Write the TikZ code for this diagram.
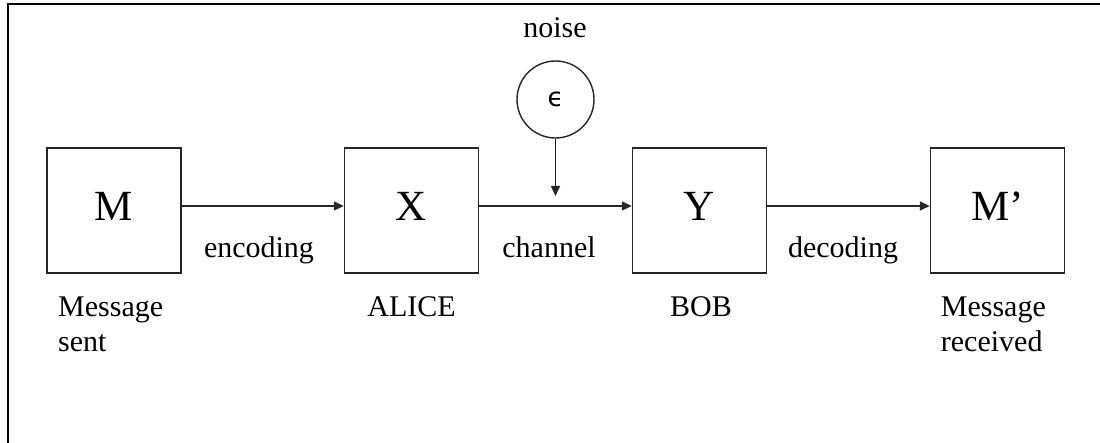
\documentclass[tikz,border=0pt]{standalone}
\usepackage{fontspec}
\setmainfont{Liberation Serif}
\newfontfamily\epsfont{DejaVu Sans}
\usetikzlibrary{arrows.meta}
\begin{document}
\begin{tikzpicture}[x=1pt,y=-1pt,
  blk/.style={draw=black!85,line width=1.4pt,minimum width=134pt,minimum height=125pt,inner sep=0pt,
    font=\fontsize{43}{50}\selectfont,text height=21pt,text depth=0pt},
  lbl/.style={inner sep=0pt,font=\fontsize{30}{35}\selectfont},
  arr/.style={draw=black!85,line width=1.4pt,-{Triangle[length=10pt,width=9pt]}}]
\useasboundingbox (0,0) rectangle (1100,443);
\draw[line width=1.8pt] (8,443) -- (8,4) -- (1100,4);
\node[blk] (m)  at (114,210.5) {M};
\node[blk] (x)  at (411.5,210.5) {X};
\node[blk] (y)  at (699.5,210.5) {Y};
\node[blk] (mp) at (997.5,210.5) {M’};
\node[circle,draw=black!85,line width=1.4pt,minimum size=77pt,inner sep=0pt,
  font=\epsfont\fontsize{26}{30}\selectfont] (eps) at (555.5,99.5) {ϵ};
\coordinate (nz) at (555.5,196);
\draw[arr] ([yshift=4.5pt]m.east) -- ([yshift=4.5pt]x.west);
\draw[arr] ([yshift=4.5pt]x.east) -- ([yshift=4.5pt]y.west);
\draw[arr] ([yshift=4.5pt]y.east) -- ([yshift=4.5pt]mp.west);
\draw[arr] (eps.south) -- (nz);
\node[lbl,anchor=base] (noise) at (555,37.3) {noise};
\node[lbl,anchor=base] (enc) at (259,258) {encoding};
\node[lbl,anchor=base] (chn) at (549,258) {channel};
\node[lbl,anchor=base] (dec) at (843,258) {decoding};
\node[lbl,anchor=north west,align=left] (ms) at (58,297) {Message\\sent};
\node[lbl,anchor=base] (al) at (411.5,316.7) {ALICE};
\node[lbl,anchor=base] (bo) at (701,316.7) {BOB};
\node[lbl,anchor=north west,align=left] (mr) at (940.7,297) {Message\\received};
\end{tikzpicture}
\end{document}
